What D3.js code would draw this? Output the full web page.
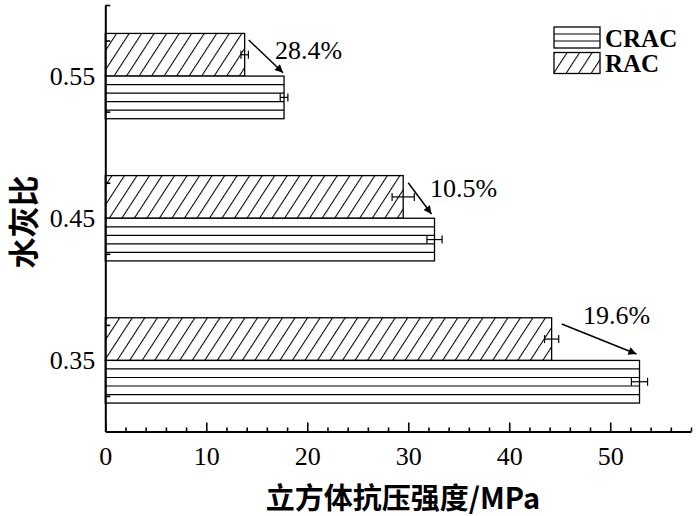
<!DOCTYPE html>
<html>
<head>
<meta charset="utf-8">
<script src="https://cdn.jsdelivr.net/npm/d3@7/dist/d3.min.js"></script>
<style>
  html, body { margin: 0; padding: 0; background: #fff; }
  svg { display: block; }
</style>
</head>
<body>
<svg id="chart" width="700" height="516"></svg>
<script>
// ---- data ----
const categories = ["0.35", "0.45", "0.55"];
const categoryValues = [0.35, 0.45, 0.55];
const seriesNames = ["CRAC", "RAC"];
const cracValues = [52.9, 32.6, 17.7];
const racValues = [44.2, 29.5, 13.8];
const cracErrors = [0.8, 0.75, 0.38];
const racErrors = [0.7, 1.1, 0.37];
const annotationLabels = ["19.6%", "10.5%", "28.4%"];
// arrow start / end and label anchor, in data units (MPa, water-cement ratio)
const arrowStartX = [45.2, 30.0, 14.2];
const arrowStartY = [0.3756, 0.475, 0.5754];
const arrowEndX = [52.6, 32.3, 17.6];
const arrowEndY = [0.3545, 0.453, 0.5524];
const labelX = [47.3, 32.15, 16.8];
const labelY = [0.3756, 0.465, 0.5623];
const xTickValues = [0, 10, 20, 30, 40, 50];
const xMinorTickValues = [2, 4, 6, 8, 12, 14, 16, 18, 22, 24, 26, 28, 32, 34, 36, 38, 42, 44, 46, 48, 52, 54, 56, 58];
const yMinorTickValues = [0.325, 0.375, 0.425, 0.475, 0.525, 0.575, 0.6];
const xTitle = "立方体抗压强度/MPa";
const yTitle = "水灰比";

// ---- layout ----
const svg = d3.select("#chart");
const barH = 0.03;
const x = d3.scaleLinear().domain([0, 58]).range([105.3, 691]);
const y = d3.scaleLinear().domain([0.3, 0.6]).range([431.5, 5]);
const serif = "'Liberation Serif', 'Times New Roman', serif";

const defs = svg.append("defs");
const hatch = defs.append("pattern")
  .attr("id", "hatch").attr("patternUnits", "userSpaceOnUse")
  .attr("width", 10.5).attr("height", 10)
  .attr("patternTransform", "rotate(33)");
hatch.append("rect").attr("width", 10.5).attr("height", 10).attr("fill", "#fff");
hatch.append("line").attr("x1", 0.5).attr("y1", 0).attr("x2", 0.5).attr("y2", 10)
  .attr("stroke", "#000").attr("stroke-width", 1.1);

defs.append("marker").attr("id", "arrow")
  .attr("viewBox", "0 0 10 10").attr("refX", 10).attr("refY", 5)
  .attr("markerWidth", 11).attr("markerHeight", 8).attr("markerUnits", "userSpaceOnUse")
  .attr("orient", "auto")
  .append("path").attr("d", "M0,0 L10,5 L0,10 Z").attr("fill", "#000");

const rows = categoryValues.map((c, i) => ({
  c, crac: cracValues[i], rac: racValues[i], ce: cracErrors[i], re: racErrors[i]
}));

const g = svg.append("g");

// RAC bars (hatched, above category line)
g.selectAll("rect.rac").data(rows).join("rect").attr("class", "rac")
  .attr("x", x(0)).attr("y", d => y(d.c + barH))
  .attr("width", d => x(d.rac) - x(0))
  .attr("height", d => y(d.c) - y(d.c + barH))
  .attr("fill", "url(#hatch)").attr("stroke", "#000").attr("stroke-width", 1.3);

// CRAC bars (horizontal stripes, below category line)
g.selectAll("rect.crac").data(rows).join("rect").attr("class", "crac")
  .attr("x", x(0)).attr("y", d => y(d.c))
  .attr("width", d => x(d.crac) - x(0))
  .attr("height", d => y(d.c - barH) - y(d.c))
  .attr("fill", "#fff").attr("stroke", "#000").attr("stroke-width", 1.3);

const stripes = [];
rows.forEach(d => { for (let k = 1; k < 5; k++) stripes.push({ v: d.crac, yy: d.c - barH * k / 5 }); });
g.selectAll("line.stripe").data(stripes).join("line").attr("class", "stripe")
  .attr("x1", x(0)).attr("x2", d => x(d.v))
  .attr("y1", d => y(d.yy)).attr("y2", d => y(d.yy))
  .attr("stroke", "#000").attr("stroke-width", 1.2);

// error bars
const errs = [];
rows.forEach(d => {
  errs.push({ v: d.rac, e: d.re, yy: d.c + barH / 2 });
  errs.push({ v: d.crac, e: d.ce, yy: d.c - barH / 2 });
});
const eg = g.selectAll("g.err").data(errs).join("g").attr("class", "err");
eg.append("line").attr("x1", d => x(d.v - d.e)).attr("x2", d => x(d.v + d.e))
  .attr("y1", d => y(d.yy)).attr("y2", d => y(d.yy)).attr("stroke", "#000").attr("stroke-width", 1.2);
eg.append("line").attr("x1", d => x(d.v - d.e)).attr("x2", d => x(d.v - d.e))
  .attr("y1", d => y(d.yy) - 4).attr("y2", d => y(d.yy) + 4).attr("stroke", "#000").attr("stroke-width", 1.2);
eg.append("line").attr("x1", d => x(d.v + d.e)).attr("x2", d => x(d.v + d.e))
  .attr("y1", d => y(d.yy) - 4).attr("y2", d => y(d.yy) + 4).attr("stroke", "#000").attr("stroke-width", 1.2);

// axes
const xAxis = svg.append("g").attr("transform", `translate(0,${y(0.3)})`)
  .call(d3.axisBottom(x).tickValues(xTickValues).tickSizeInner(-9).tickSizeOuter(0).tickPadding(15).tickFormat(d3.format("d")));
const xMinor = svg.append("g").attr("transform", `translate(0,${y(0.3)})`)
  .call(d3.axisBottom(x).tickValues(xMinorTickValues).tickSizeInner(-4).tickSizeOuter(0).tickFormat(""));
xMinor.select(".domain").remove();
const yAxis = svg.append("g").attr("transform", `translate(${x(0)},0)`)
  .call(d3.axisLeft(y).tickValues(categoryValues).tickSize(0).tickPadding(10).tickFormat((d, i) => categories[i]));
const yMinor = svg.append("g").attr("transform", `translate(${x(0)},0)`)
  .call(d3.axisLeft(y).tickValues(yMinorTickValues).tickSizeInner(-5).tickSizeOuter(0).tickFormat(""));
yMinor.select(".domain").remove();
[xAxis, xMinor, yAxis, yMinor].forEach(a => {
  a.selectAll(".domain").attr("stroke", "#000").attr("stroke-width", 2);
  a.selectAll(".tick line").attr("stroke", "#000").attr("stroke-width", 1.6);
  a.selectAll("text").attr("font-family", serif).attr("font-size", 26).attr("fill", "#000");
});

// axis titles
svg.append("text").attr("x", 403).attr("y", 509).attr("text-anchor", "middle")
  .attr("font-family", "'Noto Sans CJK SC', sans-serif").attr("font-weight", "bold")
  .attr("font-size", 29).text(xTitle);
svg.append("text").attr("transform", "translate(35,222) rotate(-90)").attr("text-anchor", "middle")
  .attr("font-family", "'Noto Sans CJK SC', sans-serif").attr("font-weight", "bold")
  .attr("font-size", 31).text(yTitle);

// annotations
const ann = annotationLabels.map((t, i) => ({ t, x1: arrowStartX[i], y1: arrowStartY[i], x2: arrowEndX[i], y2: arrowEndY[i], lx: labelX[i], ly: labelY[i] }));
svg.selectAll("line.arrow").data(ann).join("line").attr("class", "arrow")
  .attr("x1", d => x(d.x1)).attr("y1", d => y(d.y1)).attr("x2", d => x(d.x2)).attr("y2", d => y(d.y2))
  .attr("stroke", "#000").attr("stroke-width", 1.5).attr("marker-end", "url(#arrow)");
svg.selectAll("text.ann").data(ann).join("text").attr("class", "ann")
  .attr("x", d => x(d.lx)).attr("y", d => y(d.ly))
  .attr("font-family", serif).attr("font-size", 26).text(d => d.t);

// legend
const legend = svg.append("g").attr("transform", "translate(554,27)");
const li = legend.selectAll("g").data(seriesNames).join("g").attr("transform", (d, i) => `translate(0,${i * 25.5})`);
li.append("rect").attr("width", 46).attr("height", 21)
  .attr("fill", (d, i) => i === 1 ? "url(#hatch)" : "#fff").attr("stroke", "#000").attr("stroke-width", 1.3);
li.filter((d, i) => i === 0).selectAll("line").data([7, 14]).join("line")
  .attr("x1", 0).attr("x2", 46).attr("y1", d => d).attr("y2", d => d).attr("stroke", "#000").attr("stroke-width", 1.2);
li.append("text").attr("x", 51).attr("y", 19.5).attr("font-family", serif).attr("font-weight", "bold")
  .attr("font-size", 25).text(d => d);
</script>
</body>
</html>
